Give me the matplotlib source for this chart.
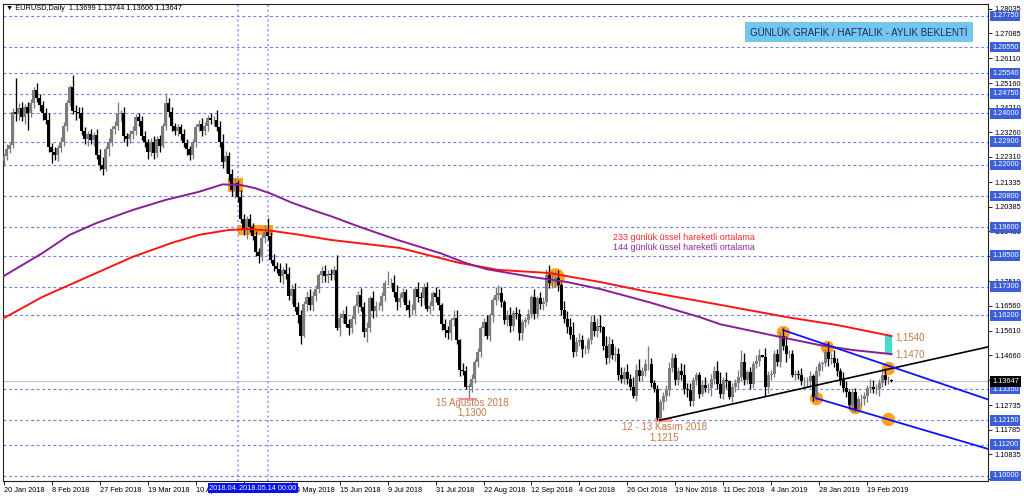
import numpy as np
import matplotlib
matplotlib.use("Agg")
import matplotlib.pyplot as plt
from matplotlib import transforms
from matplotlib.patches import Rectangle

plt.rcParams["font.family"] = ["Liberation Sans", "DejaVu Sans"]

# EURUSD daily bars, prices in pips above 1.0000 (2235 -> 1.2235)
first_open = 2215
closes = [
    2235, 2262, 2276, 2405, 2395, 2420, 2385, 2425, 2400, 2440,
    2490, 2460, 2430, 2400, 2375, 2270, 2250, 2240, 2265, 2290,
    2350, 2440, 2500, 2410, 2405, 2400, 2330, 2300, 2320, 2295,
    2315, 2240, 2200, 2185, 2260, 2290, 2340, 2350, 2395, 2400,
    2310, 2300, 2320, 2330, 2385, 2370, 2310, 2290, 2250, 2290,
    2245, 2300, 2275, 2350, 2440, 2405, 2350, 2330, 2345, 2320,
    2285, 2260, 2240, 2290, 2345, 2360, 2330, 2350, 2381, 2372,
    2374, 2346, 2288, 2210, 2234, 2165, 2102, 2130, 2078, 1990,
    1950, 1990, 1960, 1924, 1863, 1850, 1917, 1940, 1925, 1835,
    1810, 1797, 1770, 1793, 1780, 1695, 1720, 1650, 1620, 1540,
    1665, 1690, 1660, 1695, 1720, 1775, 1790, 1770, 1780, 1775,
    1795, 1570, 1610, 1625, 1585, 1570, 1605, 1655, 1700, 1650,
    1555, 1570, 1685, 1635, 1655, 1655, 1695, 1745, 1745, 1745,
    1710, 1670, 1685, 1710, 1660, 1640, 1640, 1720, 1690, 1685,
    1730, 1645, 1655, 1705, 1690, 1660, 1585, 1565, 1550, 1600,
    1610, 1525, 1410, 1405, 1345, 1345, 1375, 1440, 1480, 1570,
    1595, 1540, 1620, 1680, 1700, 1705, 1670, 1600, 1620, 1580,
    1630, 1625, 1550, 1595, 1600, 1625, 1690, 1625, 1685, 1665,
    1670, 1775, 1745, 1745, 1765, 1735, 1640, 1605, 1575, 1545,
    1480, 1515, 1525, 1490, 1490, 1525, 1595, 1560, 1580, 1575,
    1500, 1455, 1510, 1465, 1470, 1390, 1375, 1400, 1375, 1345,
    1310, 1410, 1385, 1405, 1430, 1430, 1360, 1335, 1225, 1285,
    1310, 1330, 1415, 1455, 1370, 1405, 1390, 1335, 1330, 1290,
    1370, 1390, 1315, 1350, 1340, 1340, 1375, 1405, 1355, 1315,
    1370, 1365, 1305, 1345, 1360, 1380, 1440, 1370, 1400, 1355,
    1430, 1445, 1465, 1460, 1345, 1390, 1395, 1470, 1440, 1540,
    1500, 1470, 1470, 1390, 1395, 1390, 1365, 1365, 1365, 1385,
    1305, 1405, 1430, 1435, 1480, 1450, 1455, 1435, 1405, 1370,
    1340, 1325, 1275, 1325, 1260, 1295, 1295, 1310, 1340, 1345,
    1335, 1335, 1360, 1390, 1370, 1370, 1364.7,
]
# wick lengths above / below the body, in pips
upper_wick = [
    8, 20, 12, 15, 132, 18, 25, 12, 20, 15,
    12, 26, 15, 18, 20, 25, 15, 20, 12, 18,
    15, 12, 10, 47, 22, 18, 25, 15, 12, 20,
    14, 25, 20, 30, 12, 15, 10, 18, 48, 12,
    25, 12, 15, 20, 10, 15, 18, 20, 12, 14,
    20, 10, 15, 12, 38, 20, 18, 12, 15, 12,
    18, 15, 12, 10, 12, 15, 20, 15, 12, 20,
    15, 40, 25, 30, 20, 15, 20, 18, 12, 25,
    20, 15, 20, 15, 20, 18, 15, 30, 55, 15,
    20, 15, 25, 15, 30, 25, 20, 25, 20, 20,
    10, 25, 30, 20, 15, 10, 20, 25, 15, 20,
    15, 57, 20, 15, 30, 20, 15, 10, 15, 25,
    20, 25, 10, 30, 20, 15, 15, 10, 46, 20,
    30, 25, 20, 15, 10, 20, 25, 10, 30, 20,
    15, 18, 20, 10, 25, 30, 8, 20, 15, 10,
    30, 30, 5, 25, 20, 15, 20, 10, 15, 10,
    15, 25, 10, 10, 30, 30, 25, 10, 20, 30,
    10, 20, 20, 10, 15, 20, 10, 30, 10, 25,
    20, 25, 40, 45, 25, 30, 10, 35, 30, 35,
    50, 20, 25, 20, 15, 10, 25, 25, 30, 40,
    3, 40, 30, 18, 30, 25, 30, 20, 30, 20,
    35, 20, 40, 15, 20, 70, 25, 10, 15, 10,
    15, 20, 25, 20, 15, 15, 30, 40, 25, 30,
    10, 10, 10, 20, 30, 20, 20, 20, 40, 45,
    10, 30, 5, 15, 15, 30, 45, 33, 10, 20,
    15, 20, 25, 2, 35, 15, 15, 15, 20, 15,
    30, 40, 15, 17, 15, 15, 25, 15, 15, 20,
    10, 20, 15, 10, 10, 35, 20, 30, 20, 10,
    30, 25, 5, 15, 15, 15, 20, 15, 10, 30,
    25, 20, 15, 15, 25, 15, 4.5,
]
lower_wick = [
    20, 15, 15, 10, 25, 20, 15, 25, 65, 15,
    20, 15, 20, 25, 15, 20, 42, 20, 25, 15,
    15, 20, 12, 15, 30, 20, 15, 20, 25, 15,
    20, 15, 20, 25, 10, 25, 15, 20, 15, 25,
    20, 25, 15, 20, 15, 20, 15, 20, 25, 15,
    20, 15, 25, 10, 15, 20, 20, 15, 20, 25,
    15, 20, 21, 15, 20, 15, 20, 15, 20, 15,
    20, 15, 20, 20, 40, 25, 20, 30, 20, 15,
    20, 35, 20, 15, 15, 27, 20, 20, 15, 15,
    20, 15, 20, 30, 20, 15, 30, 15, 30, 30,
    5, 30, 20, 25, 20, 15, 30, 20, 25, 20,
    20, 7, 30, 20, 10, 25, 20, 20, 25, 15,
    20, 40, 15, 25, 20, 15, 20, 20, 10, 20,
    20, 30, 20, 15, 20, 25, 20, 15, 20, 30,
    25, 10, 20, 15, 20, 20, 20, 30, 20, 25,
    20, 15, 25, 15, 10, 44, 20, 15, 20, 20,
    30, 10, 20, 25, 20, 20, 20, 15, 20, 25,
    20, 20, 25, 25, 20, 15, 15, 20, 15, 20,
    25, 15, 20, 20, 15, 20, 20, 15, 25, 15,
    20, 17, 15, 30, 20, 15, 15, 20, 25, 20,
    15, 25, 20, 15, 20, 20, 15, 20, 20, 15,
    10, 20, 20, 20, 20, 20, 15, 10, 9, 10,
    30, 20, 20, 15, 20, 20, 20, 20, 25, 20,
    20, 20, 15, 5, 15, 20, 30, 20, 20, 15,
    20, 25, 10, 20, 20, 20, 15, 20, 15, 20,
    15, 15, 20, 3, 35, 25, 20, 15, 15, 20,
    15, 30, 15, 10, 20, 15, 15, 25, 20, 20,
    15, 15, 20, 25, 10, 25, 20, 15, 20, 20,
    15, 20, 15, 30, 10, 11, 25, 20, 25, 20,
    15, 20, 25, 15, 20, 15, 4.1,
]

# exponential moving averages (bar index, price)
ema144_bar = [-1, 13, 22, 31, 43, 54, 65, 73, 79, 84, 89, 96, 104, 109, 119,
              131, 146, 154, 161, 176, 188, 199, 215, 232, 239, 259, 272, 283, 296]
ema144 = [1.1764, 1.1860, 1.1930, 1.1976, 1.2026, 1.2065, 1.2096, 1.2125, 1.2123,
          1.2110, 1.2090, 1.2055, 1.2022, 1.2003, 1.1960, 1.1912, 1.1858, 1.1822,
          1.1798, 1.1768, 1.1748, 1.1721, 1.1671, 1.1613, 1.1585, 1.1536, 1.1505,
          1.1486, 1.1470]
ema233_bar = [-1, 13, 28, 43, 56, 65, 75, 82, 90, 99, 109, 132, 152, 165, 182,
              199, 215, 239, 261, 278, 296]
ema233 = [1.1602, 1.1691, 1.1768, 1.1845, 1.1899, 1.1930, 1.1949, 1.1953, 1.1945,
          1.1930, 1.1911, 1.1880, 1.1822, 1.1795, 1.1783, 1.1748, 1.1710, 1.1660,
          1.1613, 1.1582, 1.1540]

level_prices = [1.2775, 1.2655, 1.2554, 1.2475, 1.2400, 1.2290, 1.2200, 1.2080,
                1.1960, 1.1850, 1.1730, 1.1620, 1.1335, 1.1215, 1.1120, 1.1000]
scale_ticks = [1.28035, 1.27085, 1.26110, 1.25160, 1.24210, 1.23260, 1.22310,
               1.21335, 1.20385, 1.19435, 1.18485, 1.17510, 1.16560, 1.15610,
               1.14660, 1.13710, 1.12735, 1.11785, 1.10835, 1.09885]
hidden_ticks = [1.18485, 1.13710]  # sit under the level / price boxes
last_price = 1.13647

date_bars = list(range(0, 289, 16))
date_labels = ["20 Jan 2018", "8 Feb 2018", "27 Feb 2018", "19 Mar 2018",
               "10 Apr 2018", "", "24 May 2018", "15 Jun 2018",
               "9 Jul 2018", "31 Jul 2018", "22 Aug 2018", "12 Sep 2018",
               "4 Oct 2018", "26 Oct 2018", "19 Nov 2018", "11 Dec 2018",
               "4 Jan 2019", "28 Jan 2019", "19 Feb 2019"]
marked_bars = [78.2, 88.2]
marked_labels = ["2018.04.30 00:00", "2018.05.14 00:00"]

# drawn trend lines (bars, prices)
support_line = ([218.8, 328.2], [1.1215, 1.1498])
channel_top = ([259.8, 328.2], [1.1563, 1.1295])
channel_bottom = ([270.8, 328.2], [1.1300, 1.1104])

# circled touch points
touch_bars = [259.8, 274.4, 294.9, 270.8, 283.8, 294.9]
touch_prices = [1.1557, 1.1499, 1.1418, 1.1299, 1.1265, 1.1218]
sep_touch_bar, sep_touch_price = 183.8, 1.1767

# orange zones where price crossed the averages: bar0, bar1, low, high
cross_zones = [(74.8, 79.8, 1.2096, 1.2150), (78.2, 89.8, 1.1930, 1.1968)]

c = 1 + np.array(closes) / 1e4
o = np.r_[1 + first_open / 1e4, c[:-1]]
hi = np.maximum(o, c) + np.array(upper_wick) / 1e4
lo = np.minimum(o, c) - np.array(lower_wick) / 1e4
idx = np.arange(len(c))

fig = plt.figure(figsize=(10.24, 4.99), dpi=100)
ax = fig.add_axes([3 / 1024, 18 / 499, 985 / 1024, 477 / 499])
ax.set_xlim(-0.1667, 328.1667)
ax.set_ylim(1.098033, 1.282131)

level_col = "#6a7ee4"
for p in level_prices:
    ax.axhline(p, color=level_col, lw=0.8, ls=(0, (2.5, 2.5)), zorder=1)
ax.axhline(last_price, color="#c4c4c4", lw=0.8, zorder=1)
for b in marked_bars:
    ax.axvline(b, color="#8c8cff", lw=1.1, ls=(0, (1.2, 2)), zorder=1)

for b0, b1, p0, p1 in cross_zones:
    ax.add_patch(Rectangle((b0, p0), b1 - b0, p1 - p0, fc="#ffa01e", ec="none", zorder=2))
ax.add_patch(Rectangle((151.8, 1.1294), 6, 0.0006, fc="#ff8c8c", ec="none", zorder=2))
ax.add_patch(Rectangle((217.2, 1.1207), 5.6, 0.0016, fc="#ff9a9a", ec="none", zorder=2))
ax.add_patch(Rectangle((293.8, ema144[-1]), 2.4, ema233[-1] - ema144[-1],
                       fc="#3fe0d0", ec="none", zorder=2))

ax.scatter(touch_bars, touch_prices, s=93, color="#ffa01e", lw=0, zorder=3)
ax.scatter([sep_touch_bar], [sep_touch_price], s=180, color="#ffa01e", lw=0, zorder=3)

up = c >= o
body = np.maximum(np.abs(c - o), 0.00008)
for mask, col in ((up, "#7c7c7c"), (~up, "black")):
    ax.vlines(idx[mask], lo[mask], hi[mask], color=col, lw=0.95, zorder=4)
    ax.bar(idx[mask], body[mask], bottom=np.minimum(o, c)[mask], width=0.78,
           color=col, lw=0, zorder=5)

ax.plot(ema233_bar, ema233, color="#ff1414", lw=1.4, zorder=6)
ax.plot(ema144_bar, ema144, color="#8a1f94", lw=1.4, zorder=6)
ax.plot(*support_line, color="black", lw=1.2, zorder=6)
ax.plot(*channel_top, color="#0a14ff", lw=1.3, zorder=6)
ax.plot(*channel_bottom, color="#0a14ff", lw=1.3, zorder=6)

note_col = "#c47a4a"
ax.text(156.2, 1.1281, "15 Ağustos 2018", color=note_col, fontsize=7, ha="center", va="center")
ax.text(156.2, 1.1243, "1,1300", color=note_col, fontsize=7, ha="center", va="center")
ax.text(220.2, 1.1189, "12 - 13 Kasım 2018", color=note_col, fontsize=7, ha="center", va="center")
ax.text(220.2, 1.1147, "1,1215", color=note_col, fontsize=7, ha="center", va="center")
ax.text(297.2, 1.1535, "1,1540", color=note_col, fontsize=7, ha="left", va="center")
ax.text(297.2, 1.1467, "1,1470", color=note_col, fontsize=7, ha="left", va="center")
ax.text(226.8, 1.1922, "233 günlük üssel hareketli ortalama", color="#ff2a2a",
        fontsize=6.5, ha="center", va="center")
ax.text(226.8, 1.1883, "144 günlük üssel hareketli ortalama", color="#8e2aa0",
        fontsize=6.5, ha="center", va="center")

# price scale on the right
ax.yaxis.tick_right()
ax.set_yticks(scale_ticks)
ax.set_yticklabels(["" if v in hidden_ticks else f"{v:.5f}" for v in scale_ticks])
ax.tick_params(axis="y", length=3, width=0.6, pad=1.5, labelsize=5.3)
ytrans = transforms.blended_transform_factory(ax.transAxes, ax.transData) + \
    transforms.ScaledTranslation(4 / 100, 0, fig.dpi_scale_trans)
for p in level_prices:
    ax.text(1, p, f"{p:.5f}", transform=ytrans, ha="left", va="center", fontsize=5.3,
            color="white", clip_on=False, zorder=10,
            bbox=dict(boxstyle="square,pad=0.25", fc="#3c5fd9", ec="none"))
ax.text(1, last_price, f"{last_price:.5f}", transform=ytrans, ha="left", va="center",
        fontsize=5.3, color="white", clip_on=False, zorder=11,
        bbox=dict(boxstyle="square,pad=0.25", fc="black", ec="none"))

# time scale
ax.set_xticks(date_bars)
ax.set_xticklabels(date_labels, ha="left")
ax.tick_params(axis="x", length=3, width=0.6, pad=1.5, labelsize=5.3)
xtrans = transforms.blended_transform_factory(ax.transData, ax.transAxes)
for b, lab in zip(marked_bars, marked_labels):
    ax.text(b, -0.0155, lab, transform=xtrans, ha="center", va="center", fontsize=5.3,
            color="white", clip_on=False, zorder=10,
            bbox=dict(boxstyle="square,pad=0.2", fc="#0a10f5", ec="none"))

for sp in ax.spines.values():
    sp.set_color("#222222")
    sp.set_linewidth(0.8)

fig.text(6 / 1024, 1 - 9 / 499, "▼ EURUSD,Daily  1.13699 1.13744 1.13606 1.13647",
         fontsize=5.3, va="center", ha="left")
fig.add_artist(Rectangle((745 / 1024, 1 - 42 / 499), 228 / 1024, 20 / 499,
                         transform=fig.transFigure, fc="#74c6ee", ec="none", zorder=20))
fig.text(859 / 1024, 1 - 32.5 / 499, "GÜNLÜK GRAFİK / HAFTALIK - AYLIK BEKLENTİ",
         fontsize=7, color="#16325c", ha="center", va="center", zorder=21)

fig.savefig("out.png", dpi=100)
